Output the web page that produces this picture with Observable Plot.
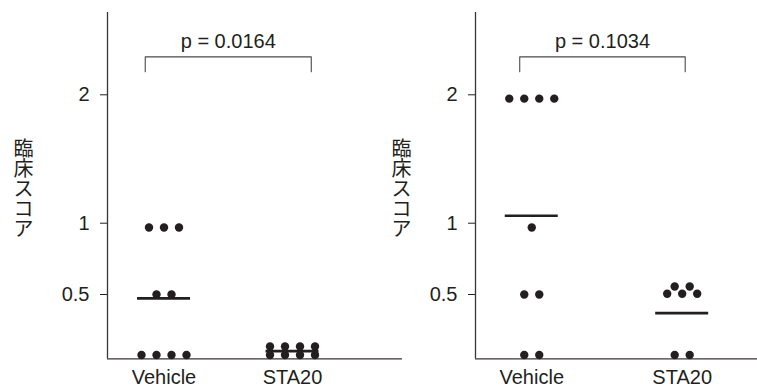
<!DOCTYPE html>
<html>
<head>
<meta charset="utf-8">
<script src="https://cdn.jsdelivr.net/npm/d3@7"></script>
<script src="https://cdn.jsdelivr.net/npm/@observablehq/plot@0.6"></script>
<style>
  html, body { margin: 0; padding: 0; background: #fff; }
  #chart { position: relative; width: 757px; height: 387px; overflow: hidden; }
  .panel { position: absolute; top: 0; }
  .panel svg { background: transparent !important; max-width: none !important; }
</style>
</head>
<body>
<div id="chart"></div>
<script>
// ---------- data ----------
const groups = ["Vehicle", "STA20"];
const yLabel = "臨床スコア";
const yTickValues = [0.5, 1, 2];

// panel 1 (left)
const leftVehicle = [0.97, 0.97, 0.97, 0.5, 0.5, 0.03, 0.03, 0.03, 0.03];
const leftSTA20   = [0.096, 0.096, 0.096, 0.096, 0.03, 0.03, 0.03, 0.03];
const leftMeans   = [0.47, 0.06];
const leftP       = "p = 0.0164";
const leftBracket = [-0.146, 1.146];

// panel 2 (right)
const rightVehicle = [1.97, 1.97, 1.97, 1.97, 0.97, 0.5, 0.5, 0.03, 0.03];
const rightSTA20   = [0.556, 0.556, 0.505, 0.505, 0.505, 0.03, 0.03];
const rightMeans   = [1.058, 0.355];
const rightP       = "p = 0.1034";
const rightBracket = [-0.08, 1.02];

// ---------- shared scale config ----------
const H = 387, MT = 12, MB = 28.7;
const yDomain = [0, 0.5, 1, 2, 2.64];
const yRange  = [H - MB, 294, 222.7, 94.3, MT];
const ink = "#231f20";
const font = "'Liberation Sans', Arial, 'Noto Sans CJK JP', sans-serif";

function beeswarm(values, gi, k, spacing) {
  const rows = d3.group(values.map((v, i) => ({v, i})), d => d.v);
  const out = [];
  for (const [v, items] of rows) {
    const n = items.length;
    items.forEach((_, j) => out.push({x: gi + (j - (n - 1) / 2) * spacing / k, y: v}));
  }
  return out;
}

function panel({series, means, p, bracket, left, width, marginLeft, xDomain, labelDx}) {
  const k = (width - marginLeft) / (xDomain[1] - xDomain[0]);
  const dots = series.flatMap((vals, gi) => beeswarm(vals, gi, k, 15));
  const half = 26.5 / k;
  const meanData = means.map((m, gi) => ({x1: gi - half, x2: gi + half, y: m}));
  const yTop = 2.295, yBot = 2.18;
  const bracketPts = [[bracket[0], yBot], [bracket[0], yTop], [bracket[1], yTop], [bracket[1], yBot]];

  const svg = Plot.plot({
    width, height: H,
    marginLeft, marginRight: 0, marginTop: MT, marginBottom: MB,
    style: {fontFamily: font, fontSize: "20px", color: ink, background: "transparent", overflow: "visible"},
    x: {domain: xDomain, ticks: [0, 1], tickFormat: i => groups[i], tickSize: 0, tickPadding: 11, label: null},
    y: {type: "linear", domain: yDomain, range: yRange, ticks: yTickValues, tickFormat: d => String(d),
        tickSize: 7, tickPadding: 11, label: null},
    marks: [
      Plot.ruleX([xDomain[0]], {stroke: "#3a3436", strokeWidth: 1.3}),
      Plot.ruleY([0], {stroke: "#3a3436", strokeWidth: 1.3}),
      Plot.line(bracketPts, {x: d => d[0], y: d => d[1], stroke: "#4a4a4a", strokeWidth: 1.1}),
      Plot.text([p], {x: (bracket[0] + bracket[1]) / 2, y: 2.415, text: d => d, fontSize: 20, fill: ink}),
      Plot.text([yLabel.split("").join("\n")], {frameAnchor: "left", dx: labelDx, dy: 4, text: d => d,
        lineHeight: 1.0, fontSize: 20, textAnchor: "middle", fill: ink}),
      Plot.ruleY(meanData, {x1: "x1", x2: "x2", y: "y", stroke: ink, strokeWidth: 2.7}),
      Plot.dot(dots, {x: "x", y: "y", r: 4.2, fill: ink, stroke: "none"})
    ]
  });
  const div = document.createElement("div");
  div.className = "panel";
  div.style.left = left + "px";
  div.style.width = width + "px";
  div.appendChild(svg);
  return div;
}

const chart = document.getElementById("chart");
chart.appendChild(panel({
  series: [leftVehicle, leftSTA20], means: leftMeans, p: leftP, bracket: leftBracket,
  left: 0, width: 402, marginLeft: 107, xDomain: [-0.4397, 1.856], labelDx: -84
}));
chart.appendChild(panel({
  series: [rightVehicle, rightSTA20], means: rightMeans, p: rightP, bracket: rightBracket,
  left: 380, width: 377, marginLeft: 95, xDomain: [-0.374, 1.5006], labelDx: -74
}));
</script>
</body>
</html>
